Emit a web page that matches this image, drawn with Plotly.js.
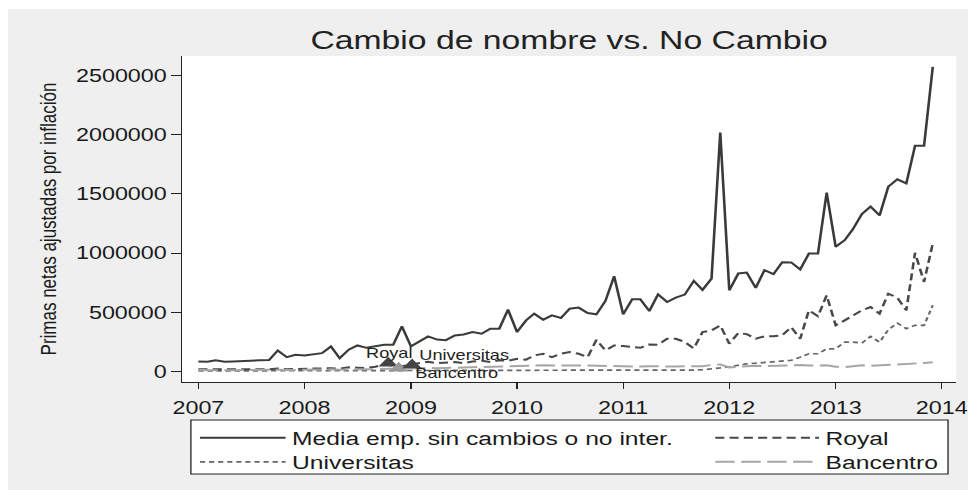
<!DOCTYPE html>
<html>
<head>
<meta charset="utf-8">
<script src="https://cdn.plot.ly/plotly-3.0.1.min.js"></script>
<style>
html,body{margin:0;padding:0;background:#fff;width:968px;height:490px;overflow:hidden;}
#wrap{position:absolute;left:8px;top:9px;width:960px;height:481px;overflow:hidden;background:#efefef;}
#plot{width:740px;height:481px;transform:scaleX(1.2972973);transform-origin:0 0;}
</style>
</head>
<body>
<div id="wrap"><div id="plot"></div></div>
<script>
// Monthly observations, Jan 2007 .. Dec 2013
const years = [2007, 2008, 2009, 2010, 2011, 2012, 2013];
const monthsOfYear = ['01','02','03','04','05','06','07','08','09','10','11','12'];
const months = [];
years.forEach(y => monthsOfYear.forEach(m => months.push(y + '-' + m + '-01')));

const mediaSinCambios = [
  85000, 82000, 95000, 82000, 85000, 90000, 95000, 95000, 97000, 178000, 121000, 141000,
  135000, 148000, 155000, 212000, 113000, 184000, 220000, 200000, 215000, 226000, 226000, 381000,
  212000, 260000, 297000, 270000, 265000, 305000, 313000, 333000, 319000, 362000, 362000, 523000,
  333000, 432000, 489000, 438000, 475000, 452000, 531000, 540000, 494000, 483000, 596000, 805000,
  483000, 610000, 610000, 511000, 652000, 587000, 624000, 650000, 766000, 690000, 785000, 2020000,
  686000, 828000, 836000, 706000, 856000, 822000, 924000, 922000, 862000, 997000, 997000, 1511000,
  1054000, 1110000, 1201000, 1330000, 1393000, 1319000, 1562000, 1624000, 1590000, 1907000, 1907000, 2574000
];
const royal = [
  20000, 18000, 22000, 20000, 18000, 20000, 22000, 20000, 18000, 25000, 20000, 22000,
  20000, 22000, 25000, 28000, 25000, 35000, 32000, 30000, 40000, 60000, 50000, 45000,
  60000, 75000, 83000, 70000, 75000, 80000, 70000, 85000, 90000, 80000, 95000, 90000,
  107000, 100000, 136000, 150000, 121000, 150000, 164000, 150000, 121000, 268000, 178000, 220000,
  215000, 206000, 200000, 229000, 225000, 277000, 277000, 250000, 195000, 333000, 347000, 390000,
  235000, 325000, 316000, 277000, 297000, 297000, 305000, 376000, 277000, 517000, 466000, 644000,
  390000, 432000, 475000, 517000, 545000, 489000, 658000, 624000, 517000, 1003000, 757000, 1082000
];
const universitas = [
  5000, 5000, 6000, 5000, 5000, 6000, 5000, 6000, 5000, 6000, 7000, 6000,
  6000, 7000, 6000, 7000, 8000, 7000, 8000, 7000, 8000, 8000, 9000, 8000,
  9000, 8000, 9000, 10000, 9000, 10000, 9000, 10000, 10000, 9000, 10000, 10000,
  10000, 11000, 10000, 11000, 10000, 11000, 10000, 11000, 12000, 11000, 12000, 11000,
  12000, 11000, 12000, 12000, 11000, 12000, 12000, 13000, 12000, 15000, 20000, 30000,
  40000, 55000, 65000, 70000, 75000, 80000, 90000, 95000, 121000, 150000, 150000, 192000,
  192000, 248000, 248000, 240000, 297000, 248000, 353000, 409000, 362000, 390000, 390000, 559000
];
const bancentro = [
  12000, 10000, 12000, 12000, 10000, 12000, 14000, 12000, 12000, 15000, 12000, 14000,
  15000, 15000, 15000, 18000, 15000, 18000, 20000, 18000, 20000, 22000, 25000, 27000,
  25000, 28000, 30000, 28000, 30000, 35000, 35000, 40000, 38000, 42000, 40000, 45000,
  50000, 48000, 50000, 52000, 50000, 48000, 52000, 50000, 50000, 48000, 50000, 45000,
  42000, 45000, 42000, 45000, 42000, 45000, 42000, 45000, 42000, 45000, 55000, 60000,
  35000, 40000, 42000, 48000, 45000, 48000, 52000, 58000, 55000, 50000, 48000, 52000,
  40000, 38000, 45000, 52000, 48000, 52000, 55000, 55000, 58000, 65000, 72000, 78000
];

// Name-change events (triangle markers)
const eventNames = ['Royal', 'Bancentro', 'Universitas'];
const eventDates = ['2008-10-15', '2008-11-20', '2009-01-05'];
const eventValues = [69000, 27000, 55000];

const yTicks = [0, 500000, 1000000, 1500000, 2000000, 2500000];
const xTicks = ['2007-01-01','2008-01-01','2009-01-01','2010-01-01','2011-01-01','2012-01-01','2013-01-01','2014-01-01'];
const xTickText = ['2007','2008','2009','2010','2011','2012','2013','2014'];

const FONT = 'Liberation Sans, Arial, Helvetica, sans-serif';

const traces = [
  {x: months, y: mediaSinCambios, type: 'scatter', mode: 'lines', name: 'Media emp. sin cambios o no inter.',
   line: {color: '#3a3a3a', width: 2}, legend: 'legend'},
  {x: months, y: royal, type: 'scatter', mode: 'lines', name: 'Royal',
   line: {color: '#484848', width: 2, dash: '7px,4px'}, legend: 'legend2'},
  {x: months, y: universitas, type: 'scatter', mode: 'lines', name: 'Universitas',
   line: {color: '#666666', width: 1.7, dash: '4px,3px'}, legend: 'legend3'},
  {x: months, y: bancentro, type: 'scatter', mode: 'lines', name: 'Bancentro',
   line: {color: '#a6a6a6', width: 2, dash: '15px,5px'}, legend: 'legend4'}
];
const evColors = ['#444444', '#999999', '#444444'];
traces.push({x: eventDates, y: eventValues, type: 'scatter', mode: 'markers', showlegend: false, cliponaxis: false,
  marker: {symbol: 'triangle-up', size: 13, color: evColors}});

const evXAnchor = ['center', 'left', 'left'];
const evXShift = [0.5, 12.1, 4.9];
const evYShift = [10, -5, 10];
const annotations = eventNames.map((n, i) => ({
  x: eventDates[i], y: eventValues[i], xref: 'x', yref: 'y', text: n, showarrow: false,
  xanchor: evXAnchor[i], yanchor: 'middle', xshift: evXShift[i], yshift: evYShift[i], borderpad: 0,
  font: {family: FONT, size: 14, color: '#222'}
}));

function leg(x, y, iw) {
  return {x: x, xanchor: 'left', y: y, yanchor: 'top', orientation: 'v',
          bgcolor: 'rgba(0,0,0,0)', borderwidth: 0, itemwidth: iw,
          font: {size: 19, family: FONT, color: '#1a1a1a'}};
}

const layout = {
  width: 740, height: 481,
  margin: {l: 134, r: 9, t: 47, b: 108},
  paper_bgcolor: '#efefef', plot_bgcolor: '#ffffff',
  font: {family: FONT, color: '#1a1a1a'},
  title: {text: 'Cambio de nombre vs. No Cambio', font: {family: FONT, size: 26, color: '#222'},
          x: 0.5, xref: 'paper', y: 1 - 31/481, yref: 'container', yanchor: 'middle'},
  xaxis: {type: 'date', range: ['2006-11-05', '2014-02-20'], tickvals: xTicks, ticktext: xTickText,
          showgrid: false, zeroline: false, showline: true, linecolor: '#222', linewidth: 1,
          ticks: 'outside', ticklen: 6, tickcolor: '#222', ticklabelstandoff: 3,
          tickfont: {size: 18, family: FONT, color: '#1a1a1a'}},
  yaxis: {range: [-88700, 2666000], tickvals: yTicks, tickformat: 'd',
          showgrid: false, zeroline: false, showline: true, linecolor: '#222', linewidth: 1,
          ticks: 'outside', ticklen: 7, tickcolor: '#222', tickfont: {size: 18, family: FONT, color: '#1a1a1a'},
          title: {text: 'Primas netas ajustadas por inflación', font: {size: 17, family: FONT, color: '#1a1a1a'}, standoff: 10}},
  legend: leg(0.015, -0.1135, 66),
  legend2: leg(0.6804, -0.1135, 80),
  legend3: leg(0.015, -0.1871, 66),
  legend4: leg(0.6804, -0.1871, 80),
  annotations: annotations,
  shapes: [{type: 'rect', xref: 'paper', yref: 'paper', x0: 0.0117, x1: 0.9893, y0: -0.2822, y1: -0.1166,
            fillcolor: '#ffffff', line: {color: '#222', width: 1}, layer: 'above'}],
  showlegend: true
};

Plotly.newPlot('plot', traces, layout, {staticPlot: true, displayModeBar: false});
</script>
</body>
</html>
